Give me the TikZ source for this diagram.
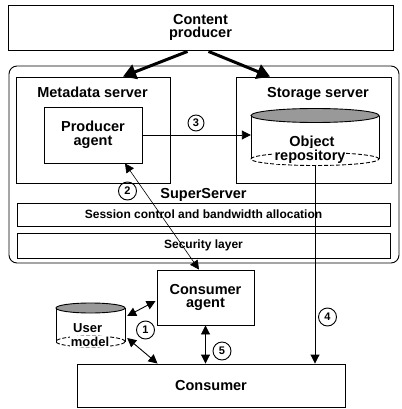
\documentclass[tikz,border=0pt]{standalone}
\usepackage{fontspec}
\setmainfont{Liberation Sans}
\usetikzlibrary{arrows.meta,calc}
\newcommand\mainlab{\fontsize{14.5}{13.5}\selectfont\bfseries}
\newcommand\smalllab{\fontsize{13}{12}\selectfont\bfseries}
\newcommand\barlab{\fontsize{12}{12}\selectfont\bfseries}
\newcommand\numlab{\fontsize{11}{11}\selectfont\bfseries}
\begin{document}
\begin{tikzpicture}[x=1pt,y=-1pt,
  box/.style={draw, line width=0.9pt, inner sep=0pt, align=center, font=\mainlab},
  lab/.style={inner sep=0pt, font=\mainlab, align=center},
  bar/.style={draw, line width=0.9pt, inner sep=0pt, minimum width=373pt, font=\barlab},
  num/.style={circle, draw, line width=0.9pt, minimum size=18pt, inner sep=0pt, font=\numlab},
  tip/.tip={Triangle[length=9pt,width=9pt]},
  one/.style={line width=0.9pt, -tip},
  two/.style={line width=0.9pt, tip-tip},
  fine/.style={line width=0.6pt, tip-tip},
  heavy/.style={line width=3pt, -{Triangle[length=13pt,width=15pt]}},
  cyl/.style={line width=0.9pt},
  dashedge/.style={line width=0.9pt, dash pattern=on 4pt off 2pt}]
\useasboundingbox (0,0) rectangle (401,409);

% Content producer
\node[box, minimum width=385pt, minimum height=45pt] (cp) at (200.5,27.5) {Content\\producer};

% SuperServer frame
\node[draw, line width=0.9pt, rounded corners=8pt, minimum width=390pt, minimum height=197pt, inner sep=0pt] (ss) at (204,164.5) {};
\node[lab, anchor=base] (sslab) at (203.5,198) {SuperServer};

% Metadata server
\node[draw, line width=0.9pt, minimum width=154pt, minimum height=106pt, inner sep=0pt] (md) at (93,130) {};
\node[lab, anchor=base] (mdlab) at (92.5,98) {Metadata server};
\node[box, minimum width=98pt, minimum height=56pt] (pa) at (93,135) {Producer\\agent};

% Storage server
\node[draw, line width=0.9pt, minimum width=155pt, minimum height=106pt, inner sep=0pt] (st) at (313.5,130) {};
\node[lab, anchor=base] (stlab) at (318,98) {Storage server};

% Object repository cylinder
\node[minimum width=128pt, minimum height=50pt, inner sep=0pt] (objrep) at (315,140.5) {};
\draw[cyl, fill=black!40] (315,115.5) ellipse [x radius=64pt, y radius=7pt];
\draw[cyl] (251,115.5) -- (251,159) (379,115.5) -- (379,159);
\draw[dashedge] (315,159) ellipse [x radius=64pt, y radius=6.5pt];
\node[lab, anchor=base] (objt) at (312,146) {Object};
\node[lab, anchor=base, fill=white, inner sep=1pt] (rept) at (310,160) {repository};

% Bars
\node[bar, minimum height=23pt] (sess) at (203.5,214.5) {Session control and bandwidth allocation};
\node[bar, minimum height=25pt] (sec) at (203.5,245.5) {Security layer};

% Consumer agent and consumer
\node[box, minimum width=97pt, minimum height=55pt] (ca) at (205.5,297.5) {Consumer\\agent};
\node[box, minimum width=268pt, minimum height=43pt] (cons) at (211,385.5) {Consumer};

% User model cylinder
\node[minimum width=69pt, minimum height=44pt, inner sep=0pt] (um) at (90.5,325) {};
\draw[cyl, fill=black!40] (90.5,308) ellipse [x radius=34.5pt, y radius=5pt];
\draw[cyl] (56,308) -- (56,341.5) (125,308) -- (125,341.5);
\draw[dashedge] (90.5,341.5) ellipse [x radius=34.5pt, y radius=5.5pt];
\node[inner sep=0pt, font=\smalllab, anchor=base west] (usert) at (73,332) {User};
\node[font=\smalllab, anchor=base, fill=white, inner sep=0.5pt] (modt) at (90,346) {model};

% Connectors
\draw[heavy] ($(cp.south)+(-13,1)$) -- ($(md.north)+(30,0)$);
\draw[heavy] ($(cp.south)+(8,1)$) -- ($(st.north)+(-43.5,0)$);
\draw[one] (pa.east) -- (pa.east -| objrep.west);
\node[num, minimum size=16pt] (n3) at (196,123) {3};

\coordinate (a2s) at ($(pa.south)+(32,0)$);
\coordinate (a2e) at ($(ca.north)+(-6.5,0)$);
\draw[fine] (a2s) -- (a2e);
\node[num] (n2) at (127.5,191) {2};

\draw[one] (objrep.south) -- (objrep.south |- cons.north);
\node[num] (n4) at (327.5,317) {4};

\draw[two] (ca.south) -- (ca.south |- cons.north);
\node[num] (n5) at (222,351) {5};

\coordinate (u1) at ($(um.east)+(2,-9)$);
\coordinate (c1) at ($(ca.west)+(-1,3.5)$);
\coordinate (u2) at ($(um.east)+(2,13)$);
\coordinate (c2) at ($(cons.north west)+(81,0)$);
\draw[two] (u1) -- (c1);
\draw[two] (u2) -- (c2);
\node[num] (n1) at (145.5,330) {1};
\end{tikzpicture}
\end{document}
